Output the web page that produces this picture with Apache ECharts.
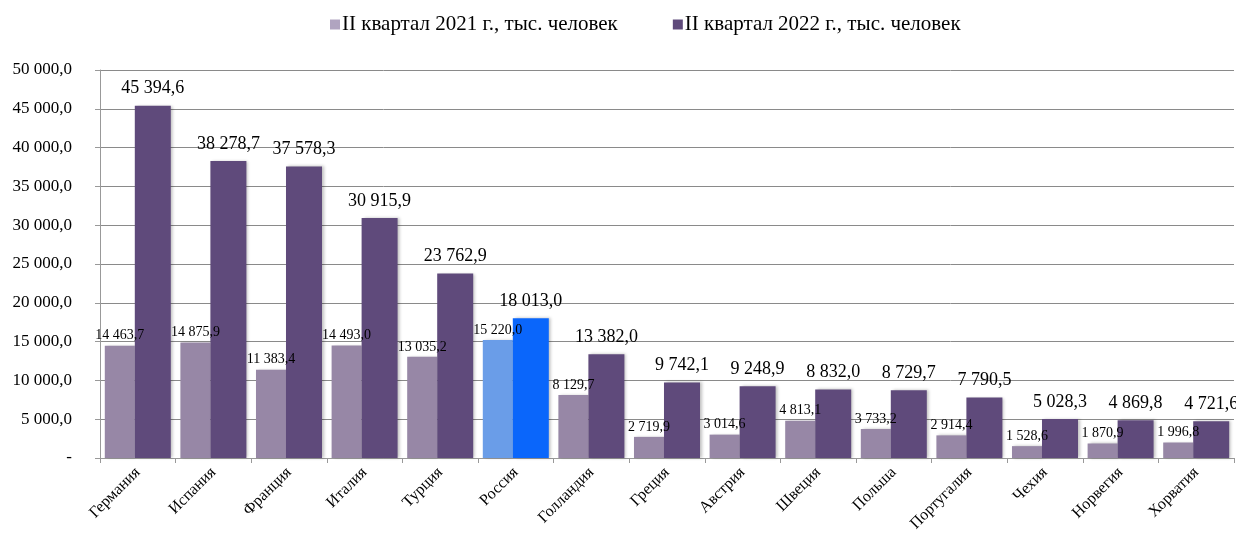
<!DOCTYPE html>
<html><head><meta charset="utf-8">
<script src="https://cdn.jsdelivr.net/npm/echarts@6/dist/echarts.min.js"></script>
<style>html,body{margin:0;padding:0;background:#fff}#c{width:1236px;height:544px}</style>
</head><body><div id="c"></div>
<script>
const categories = ['Германия','Испания','Франция','Италия','Турция','Россия','Голландия','Греция','Австрия','Швеция','Польша','Португалия','Чехия','Норвегия','Хорватия'];
const values2021 = [14463.7,14875.9,11383.4,14493.0,13035.2,15220.0,8129.7,2719.9,3014.6,4813.1,3733.2,2914.4,1528.6,1870.9,1996.8];
const values2022 = [45394.6,38278.7,37578.3,30915.9,23762.9,18013.0,13382.0,9742.1,9248.9,8832.0,8729.7,7790.5,5028.3,4869.8,4721.6];
const seriesNames = ['II квартал 2021 г., тыс. человек','II квартал 2022 г., тыс. человек'];
const highlightCategory = 'Россия';

function fmt(v){
  if (v === 0) return '-';
  const s = v.toFixed(1).split('.');
  return s[0].replace(/\B(?=(\d{3})+(?!\d))/g,' ') + ',' + s[1];
}
const serif = 'Liberation Serif';
const c1 = '#9787A6', c2 = '#5F4A7B', h1 = '#6A9DE8', h2 = '#0A66FB';

function mk(vals, base, hi){
  return vals.map((v,i)=> categories[i]===highlightCategory ? {value:v, itemStyle:{color:hi}} : {value:v, itemStyle:{color:base}});
}
const chart = echarts.init(document.getElementById('c'));
chart.setOption({
  animation:false,
  textStyle:{fontFamily:serif},
  legend:{top:9,left:325,itemWidth:10,itemHeight:10,itemGap:55,
    textStyle:{fontFamily:serif,fontSize:21,color:'#000',padding:[0,0,0,-3]},
    data:[{name:seriesNames[0],icon:'rect',itemStyle:{color:'#B0A4C0'}},{name:seriesNames[1],icon:'rect',itemStyle:{color:c2}}]},
  grid:{left:100,right:2,top:70,bottom:86},
  xAxis:{type:'category',data:categories,
    axisLine:{lineStyle:{color:'#999'}},
    axisTick:{show:true,length:5,lineStyle:{color:'#999'}},
    axisLabel:{rotate:45,fontFamily:serif,fontSize:16,color:'#000',margin:12}},
  yAxis:{type:'value',min:0,max:50000,interval:5000,
    axisLine:{show:true,lineStyle:{color:'#999'}},
    axisTick:{show:true,length:5,inside:false,lineStyle:{color:'#999'}},
    splitLine:{lineStyle:{color:'#8a8a8a',width:1}},
    axisLabel:{formatter:fmt,fontFamily:serif,fontSize:17,color:'#000',margin:28}},
  series:[
    {name:seriesNames[0],type:'bar',data:mk(values2021,c1,h1),barWidth:30,barGap:'0%',
      itemStyle:{shadowBlur:3,shadowColor:'rgba(0,0,0,0.25)',shadowOffsetX:2},
      label:{show:true,position:'top',distance:3,formatter:p=>fmt(p.value),fontFamily:serif,fontSize:14,color:'#000'}},
    {name:seriesNames[1],type:'bar',data:mk(values2022,c2,h2),barWidth:36,barGap:'0%',
      itemStyle:{shadowBlur:3,shadowColor:'rgba(0,0,0,0.25)',shadowOffsetX:2},
      label:{show:true,position:'top',distance:8,formatter:p=>fmt(p.value),fontFamily:serif,fontSize:18,color:'#000'}}
  ]
});
</script></body></html>
